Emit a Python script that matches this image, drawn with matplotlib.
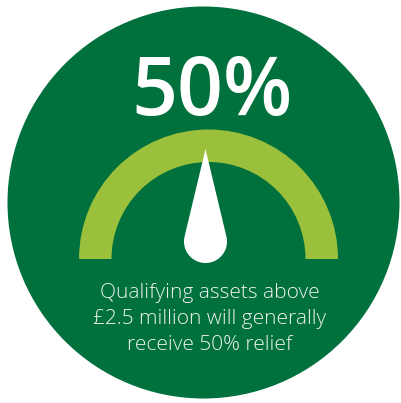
import numpy as np
import matplotlib
matplotlib.use("Agg")
import matplotlib.pyplot as plt
from matplotlib.patches import Circle, Wedge, Polygon

# Data
value_pct = 50
gauge_min, gauge_max = 0, 100
headline = f"{value_pct}%"
caption_lines = ["Qualifying assets above", "£2.5 million will generally", "receive 50% relief"]

DARK = "#00713d"
LIGHT = "#9bc13c"

fig = plt.figure(figsize=(4.01, 4.03), dpi=100)
ax = fig.add_axes([0, 0, 1, 1])
ax.set_xlim(0, 401)
ax.set_ylim(403, 0)
ax.set_aspect("equal")
ax.axis("off")

# Background circle
ax.add_patch(Circle((203.5, 202.5), 196, color=DARK, lw=0))

# Gauge arc
cx, cy = 208.5, 259
ax.add_patch(Wedge((cx, cy), 129.5, 180, 360, width=32.5, color=LIGHT, lw=0))

# Needle
frac = (value_pct - gauge_min) / (gauge_max - gauge_min)
ang = np.pi - np.pi * frac  # 90 deg for 50%
bx, by, r = 205.5, 241.5, 21.5
L = 92.5
tipx = bx + L * np.cos(ang)
tipy = by - L * np.sin(ang)
dirang = np.arctan2(tipy - by, tipx - bx)
phi = np.arccos(r / L)
ts = np.linspace(dirang + phi, dirang + 2 * np.pi - phi, 80)
pts = [(tipx, tipy)] + [(bx + r * np.cos(t), by + r * np.sin(t)) for t in ts]
ax.add_patch(Polygon(pts, closed=True, color="white", lw=0))

# Headline
ax.text(212, 115, headline, color="white", fontsize=58, family="Open Sans",
        weight="semibold", ha="center", va="baseline")

# Caption
for i, line in enumerate(caption_lines):
    ax.text(210, 298 + 26 * i, line, color="#eef3ee", fontsize=15, family="Open Sans",
            weight="light", ha="center", va="baseline")

fig.savefig("out.png", dpi=100, facecolor="white")
